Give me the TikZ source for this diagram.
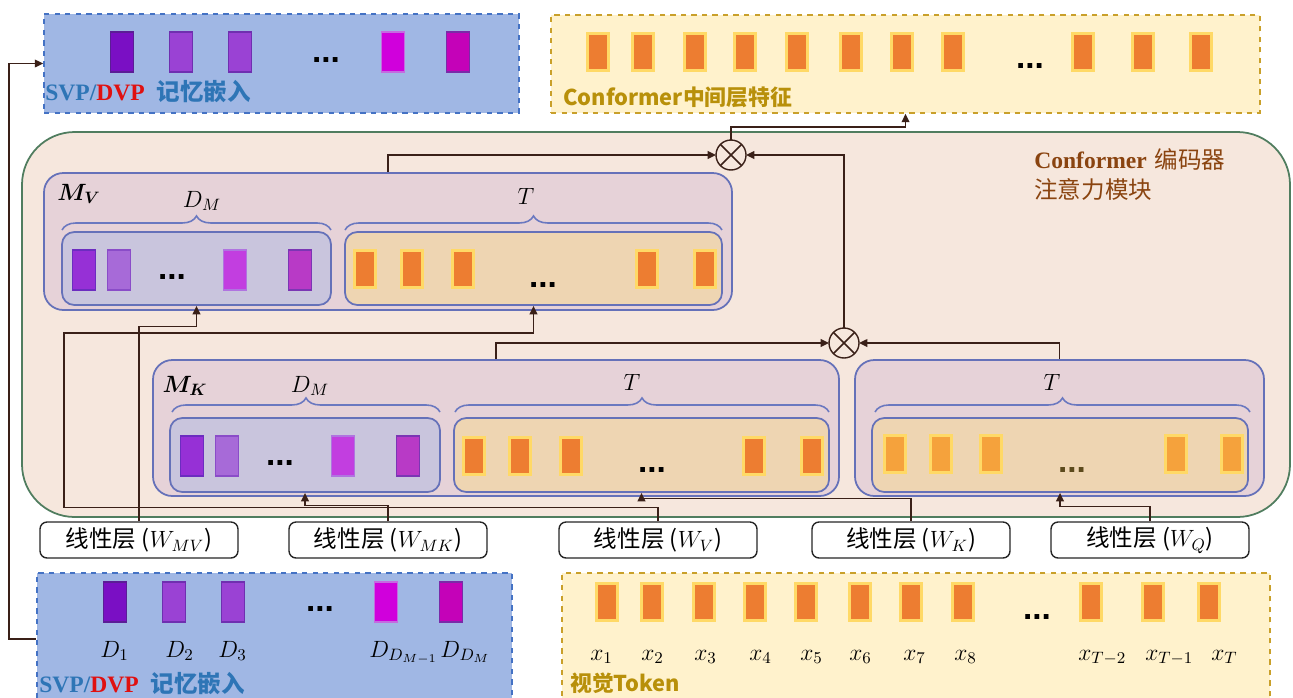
\RequirePackage{fix-cm}
\documentclass[tikz,border=0pt]{standalone}
\usepackage{fontspec}
\usepackage{bm}
\usetikzlibrary{fit,decorations.pathreplacing,arrows.meta}
\newfontfamily\cjk{Noto Sans CJK SC}
\newfontfamily\tnr{Liberation Serif}
\newfontfamily\arial{Liberation Sans}

\definecolor{memfill}{HTML}{A0B7E4}
\definecolor{memline}{HTML}{4472C4}
\definecolor{tokfill}{HTML}{FFF2CC}
\definecolor{tokline}{HTML}{C9A02A}
\definecolor{encfill}{HTML}{F6E7DD}
\definecolor{encline}{HTML}{507D5F}
\definecolor{attfill}{HTML}{E6D2D8}
\definecolor{attline}{HTML}{6571B9}
\definecolor{memin}{HTML}{C9C5DD}
\definecolor{tokin}{HTML}{EED5B2}
\definecolor{orng}{HTML}{ED7D31}
\definecolor{lorng}{HTML}{F5A23C}
\definecolor{yell}{HTML}{FFD966}
\definecolor{linkc}{HTML}{3A2018}
\definecolor{braceclr}{HTML}{6A78C0}
\definecolor{svpblue}{HTML}{2E75B6}
\definecolor{dvpred}{HTML}{E01010}
\definecolor{goldt}{HTML}{B8900A}
\definecolor{encbrown}{HTML}{8A4410}
\definecolor{dotolive}{HTML}{5C4A1C}
\definecolor{pa}{HTML}{7A0FC4}\definecolor{pad}{HTML}{5B1D96}
\definecolor{pb}{HTML}{9A42D4}\definecolor{pbd}{HTML}{6F2FB0}
\definecolor{pd}{HTML}{D000DC}\definecolor{pdd}{HTML}{C46BE0}
\definecolor{pe}{HTML}{C402B8}\definecolor{ped}{HTML}{7A2AA8}
\definecolor{qa}{HTML}{9630D6}\definecolor{qad}{HTML}{6C2CC0}
\definecolor{qb}{HTML}{A76AD8}\definecolor{qbd}{HTML}{8A4CC8}
\definecolor{qc}{HTML}{C23EE0}\definecolor{qcd}{HTML}{B074E0}
\definecolor{qd}{HTML}{B83AC6}\definecolor{qdd}{HTML}{7B36B4}

\begin{document}
\begin{tikzpicture}[x=0.02cm, y=-0.02cm, >={Triangle[length=4.8pt, width=4.4pt]},
  every node/.style={font=\fontsize{13.4}{16}\selectfont},
  area/.style={dashed, line width=0.9pt, inner sep=0pt},
  memarea/.style={area, draw=memline, fill=memfill},
  tokarea/.style={area, draw=tokline, fill=tokfill},
  encbox/.style={draw=encline, fill=encfill, line width=1pt, rounded corners=30pt, inner sep=0pt},
  attbox/.style={draw=attline, fill=attfill, line width=1pt, rounded corners=11pt, inner sep=0pt},
  membox/.style={draw=attline, fill=memin, line width=1pt, rounded corners=7pt, inner sep=0pt},
  tokbox/.style={membox, fill=tokin},
  linbox/.style={draw=black!85, fill=white, line width=0.8pt, rounded corners=4pt,
    minimum width=3.96cm, minimum height=0.72cm, inner sep=0pt, font=\cjk\fontsize{13.4}{16}\selectfont},
  tokbar/.style={minimum width=0.43cm, minimum height=0.75cm, inner sep=0pt, line width=1.5pt, fill=orng, draw=yell},
  qbar/.style={tokbar, fill=lorng},
  mem/.style={minimum width=0.46cm, minimum height=0.8cm, inner sep=0pt, line width=1pt, fill=#1, draw=#1d},
  mul/.style={draw=linkc, circle, fill=encfill, minimum size=0.6cm, inner sep=0pt, outer sep=0pt, line width=0.8pt},
  link/.style={draw=linkc, line width=0.9pt},
  brc/.style={draw=braceclr, line width=0.9pt, decorate, decoration={brace, amplitude=8pt}},
  dots/.style={font=\arial\bfseries\fontsize{19}{19}\selectfont},
  lab/.style={anchor=base},
  txt/.style={anchor=base west, inner sep=0pt},
  goldlab/.style={txt, text=goldt, font=\cjk\bfseries\fontsize{12.4}{15}\selectfont}
]
  \useasboundingbox (0,0) rectangle (1293,697);

  % Memory embeddings and visual tokens
  \node[memarea, fit={(44,14) (519,113)}] (memtop) {};
  \node[tokarea, fit={(551,15) (1260,113)}] (featop) {};
  \node[memarea, fit={(37,573) (512,705)}] (membot) {};
  \node[tokarea, fit={(562,573) (1270,705)}] (tokbot) {};

  \foreach \x/\c [count=\i] in {122/pa,181/pb,240/pb,393/pd,458/pe}
    \node[mem=\c] (mt\i) at (\x,52) {};
  \node[dots] (mtdots) at (326,60) {...};
  \node[txt] (memtoplab) at (45,100)
    {{\tnr\bfseries\color{svpblue}SVP/\color{dvpred}DVP}\enspace{\cjk\bfseries\color{svpblue}记忆嵌入}};

  \foreach \x/\lx/\lab [count=\i] in {115/100/D_1,174/165/D_2,233/218/D_3,386/369/D_{D_{M-1}},451/440/D_{D_M}}{
    \node[mem={\ifcase\i\or pa\or pb\or pb\or pd\or pe\fi}] (mb\i) at (\x,602) {};
    \node[txt] (mbl\i) at (\lx,657) {$\lab$};
  }
  \node[dots] (mbdots) at (320,609) {...};
  \node[txt] (membotlab) at (39,692)
    {{\tnr\bfseries\color{svpblue}SVP/\color{dvpred}DVP}\enspace{\cjk\bfseries\color{svpblue}记忆嵌入}};

  \foreach \x [count=\i] in {598,643,695,745,797,851,902,953,1083,1143,1201}
    \node[tokbar] (f\i) at (\x,52) {};
  \node[dots] (fdots) at (1030,66) {...};
  \node[goldlab] (featlab) at (563,105) {Conformer中间层特征};

  \foreach \x/\lx/\lab [count=\i] in {607/590/x_1,652/641/x_2,704/694/x_3,755/749/x_4,806/800/x_5,860/849/x_6,911/903/x_7,963/954/x_8,1091/1078/x_{T-2},1153/1145/x_{T-1},1209/1211/x_T}{
    \node[tokbar] (t\i) at (\x,602) {};
    \node[txt] (tl\i) at (\lx,660) {$\lab$};
  }
  \node[dots] (tdots) at (1037,617) {...};
  \node[goldlab] (toklab) at (570,691) {视觉Token};

  % Encoder attention block
  \node[encbox, fit={(22,132) (1290,517)}] (enc) {};
  \node[txt, text=encbrown] (enclab1) at (1034,168) {{\tnr\bfseries Conformer} {\cjk 编码器}};
  \node[txt, text=encbrown, font=\cjk\fontsize{13.4}{16}\selectfont] (enclab2) at (1034,198) {注意力模块};

  \node[attbox, fit={(44,173) (732,310)}] (mv) {};
  \node[membox, fit={(62,232) (331,305)}] (mvmem) {};
  \node[tokbox, fit={(345,232) (722,305)}] (mvtok) {};
  \node[lab] (mvlab) at (79,200) {$\bm{M_V}$};
  \draw[brc] (62,230) -- (331,230);
  \draw[brc] (345,230) -- (722,230);
  \node[lab] (mvdm) at (202,207) {$D_M$};
  \node[lab] (mvt) at (526,204) {$T$};
  \foreach \x/\c [count=\i] in {84/qa,119/qb,235/qc,300/qd}
    \node[mem=\c] (vm\i) at (\x,270) {};
  \node[dots] (vmdots) at (172,277) {...};
  \foreach \x [count=\i] in {365,412,463,647,705}
    \node[tokbar] (vt\i) at (\x,269) {};
  \node[dots] (vtdots) at (543,285) {...};

  \node[attbox, fit={(153,360) (839,496)}] (mk) {};
  \node[membox, fit={(170,418) (440,492)}] (mkmem) {};
  \node[tokbox, fit={(454,418) (829,492)}] (mktok) {};
  \node[lab] (mklab) at (185,392) {$\bm{M_K}$};
  \draw[brc] (172,412) -- (440,412);
  \draw[brc] (455,412) -- (829,412);
  \node[lab] (mkdm) at (310,392) {$D_M$};
  \node[lab] (mkt) at (632,390) {$T$};
  \foreach \x/\c [count=\i] in {192/qa,227/qb,343/qc,408/qd}
    \node[mem=\c] (km\i) at (\x,456) {};
  \node[dots] (kmdots) at (280,463) {...};
  \foreach \x [count=\i] in {474,520,571,754,812}
    \node[tokbar] (kt\i) at (\x,456) {};
  \node[dots] (ktdots) at (652,470) {...};

  \node[attbox, fit={(855,360) (1264,496)}] (mq) {};
  \node[tokbox, fit={(872,418) (1248,492)}] (mqtok) {};
  \draw[brc] (875,412) -- (1250,412);
  \node[lab] (mqt) at (1052,390) {$T$};
  \foreach \x [count=\i] in {895,941,991,1176,1232}
    \node[qbar] (qt\i) at (\x,454) {};
  \node[dots, text=dotolive] (qtdots) at (1072,470) {...};

  % Products
  \node[mul] (mul1) at (731,155) {};
  \node[mul] (mul2) at (844,343) {};
  \draw[link] (mul1.north west) -- (mul1.south east) (mul1.north east) -- (mul1.south west);
  \draw[link] (mul2.north west) -- (mul2.south east) (mul2.north east) -- (mul2.south west);

  \draw[link,->] (mk.north) |- (mul2.west);
  \draw[link,->] (mq.north) |- (mul2.east);
  \draw[link,->] (mv.north) |- (mul1.west);
  \draw[link,->] (mul2.north) |- (mul1.east);
  \draw[link,->] (mul1.north) -- ++(0,-13) -| (featop.south);

  % Linear layers
  \node[linbox] (wmv) at (139,540) {线性层 ($W_{MV}$)};
  \node[linbox] (wmk) at (388,540) {线性层 ($W_{MK}$)};
  \node[linbox] (wv) at (658,540) {线性层 ($W_{V}$)};
  \node[linbox] (wk) at (911,540) {线性层 ($W_{K}$)};
  \node[linbox] (wq) at (1150,540) {线性层 ($W_{Q}$)};

  \draw[link,->] (wmv.north) -- ++(0,-195) -| (mvmem.south);
  \draw[link,->] (wmk.north) -- ++(0,-16) -| (mkmem.south);
  \draw[link,->] (wv.north) -- ++(0,-14) -| (64,333) -| (mvtok.south);
  \draw[link,->] (wk.north) -- ++(0,-23) -| (mktok.south);
  \draw[link,->] (wq.north) -- ++(0,-15) -| (mqtok.south);

  % Feedback of memory embeddings
  \draw[link,->] (membot.west) -- ++(-27,0) |- (memtop.west);
\end{tikzpicture}
\end{document}
